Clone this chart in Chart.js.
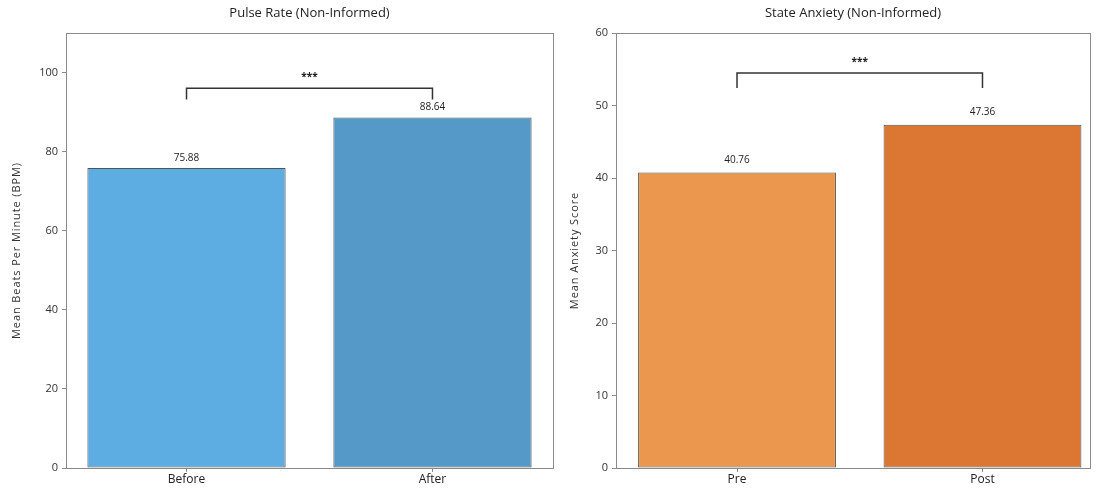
<!DOCTYPE html>
<html>
<head>
<meta charset="utf-8">
<script src="https://cdn.jsdelivr.net/npm/chart.js@4.4.1/dist/chart.umd.min.js"></script>
<style>
  html, body { margin: 0; padding: 0; background: #fff; overflow: hidden; }
  #wrap { position: relative; width: 1099px; height: 490px; overflow: hidden; }
  .box { position: absolute; top: 0; height: 490px; }
</style>
</head>
<body>
<div id="wrap">
  <div class="box" style="left:0;width:555px"><canvas id="pulse"></canvas></div>
  <div class="box" style="left:555px;width:544px"><canvas id="anxiety"></canvas></div>
</div>
<script>
// Pulse rate panel
const pulseGroups = ['Before', 'After'];
const pulseMeans = [75.88, 88.64];
const pulseTicks = [0, 20, 40, 60, 80, 100];
const pulseMax = 110;
const pulseXRange = [-0.49, 1.49];
const pulseColors = ['#5dade2', '#5499c7'];
const pulseBracket = [96, 93.2];   // bracket bar level, tick end level
const pulseTitle = 'Pulse Rate (Non-Informed)';
const pulseYLabel = 'Mean Beats Per Minute (BPM)';

// State anxiety panel
const anxietyGroups = ['Pre', 'Post'];
const anxietyMeans = [40.76, 47.36];
const anxietyTicks = [0, 10, 20, 30, 40, 50, 60];
const anxietyMax = 60;
const anxietyXRange = [-0.493, 1.438];
const anxietyColors = ['#eb984e', '#dc7633'];
const anxietyBracket = [54.5, 52.4];
const anxietyTitle = 'State Anxiety (Non-Informed)';
const anxietyYLabel = 'Mean Anxiety Score';

const significance = '***';
const FONT = '"Open Sans", "DejaVu Sans", sans-serif';
const SPINE = '#8a8a8a';

// Frame, title, value labels and significance bracket
const decorations = {
  id: 'decorations',
  afterDatasetsDraw(chart, args, o) {
    const ctx = chart.ctx;
    const a = chart.chartArea;
    const x = chart.scales.x, y = chart.scales.y;
    ctx.save();
    // spines
    ctx.strokeStyle = SPINE;
    ctx.lineWidth = 1;
    ctx.strokeRect(Math.round(a.left) + 0.5, Math.round(a.top) + 0.5,
                   Math.round(a.right - a.left), Math.round(a.bottom - a.top));
    // title
    ctx.fillStyle = '#222';
    ctx.font = '13px ' + FONT;
    ctx.textAlign = 'center';
    ctx.textBaseline = 'middle';
    ctx.fillText(o.title, (a.left + a.right) / 2, 13);
    // y-axis label
    ctx.save();
    ctx.translate(o.yLabelX, (a.top + a.bottom) / 2);
    ctx.rotate(-Math.PI / 2);
    ctx.font = '11px ' + FONT;
    ctx.letterSpacing = '0.9px';
    ctx.fillStyle = '#333';
    ctx.fillText(o.yLabel, 0, 0);
    ctx.restore();
    // value labels
    const meta = chart.getDatasetMeta(0);
    const vals = chart.data.datasets[0].data;
    ctx.font = '10px ' + FONT;
    ctx.fillStyle = '#222';
    ctx.textBaseline = 'bottom';
    meta.data.forEach((bar, i) => {
      ctx.fillText(vals[i].y.toFixed(2), bar.x, bar.y - o.labelGap);
    });
    // significance bracket
    const x0 = x.getPixelForValue(0), x1 = x.getPixelForValue(1);
    const yb = y.getPixelForValue(o.bracket[0]);
    const yt = y.getPixelForValue(o.bracket[1]);
    ctx.strokeStyle = '#333';
    ctx.lineWidth = 1.5;
    ctx.beginPath();
    ctx.moveTo(x0, yt); ctx.lineTo(x0, yb); ctx.lineTo(x1, yb); ctx.lineTo(x1, yt);
    ctx.stroke();
    ctx.font = 'bold 10px ' + FONT;
    ctx.fillStyle = '#222';
    ctx.textBaseline = 'middle';
    ctx.fillText(significance, (x0 + x1) / 2, yb - 11);
    ctx.restore();
  }
};

function makePanel(id, groups, means, colors, ticks, max, xRange, opts) {
  return new Chart(document.getElementById(id), {
    type: 'bar',
    data: {
      datasets: [{
        data: means.map((v, i) => ({ x: i, y: v })),
        backgroundColor: colors,
        borderColor: 'rgba(40,40,40,0.8)',
        borderWidth: 1,
        borderSkipped: false,
        barPercentage: 0.806,
        categoryPercentage: 1.0
      }]
    },
    options: {
      responsive: true,
      maintainAspectRatio: false,
      animation: false,
      layout: { padding: { top: 33, right: opts.padRight, bottom: 0, left: 0 } },
      plugins: {
        legend: { display: false },
        tooltip: { enabled: false },
        decorations: opts
      },
      scales: {
        x: {
          type: 'linear',
          offset: false,
          min: xRange[0], max: xRange[1],
          grid: { display: true, offset: false, drawOnChartArea: false, tickLength: 4, color: SPINE },
          border: { display: false },
          ticks: {
            color: '#222', font: { family: FONT, size: 12 }, padding: 0,
            callback: (v) => groups[v]
          },
          afterBuildTicks(s) { s.ticks = groups.map((g, i) => ({ value: i })); },
          afterFit(s) { s.height = 22; }
        },
        y: {
          min: 0, max: max,
          grid: { display: true, drawOnChartArea: false, tickLength: 4, color: SPINE },
          border: { display: false },
          ticks: { color: '#333', font: { family: FONT, size: 11 }, padding: 4 },
          afterBuildTicks(s) { s.ticks = ticks.map(v => ({ value: v })); },
          afterFit(s) { s.width = opts.yWidth; }
        }
      }
    },
    plugins: [decorations]
  });
}

makePanel('pulse', pulseGroups, pulseMeans, pulseColors, pulseTicks, pulseMax, pulseXRange, {
  title: pulseTitle, yLabel: pulseYLabel, yLabelX: 17, bracket: pulseBracket,
  labelGap: 5, padRight: 2, yWidth: 66
});
makePanel('anxiety', anxietyGroups, anxietyMeans, anxietyColors, anxietyTicks, anxietyMax, anxietyXRange, {
  title: anxietyTitle, yLabel: anxietyYLabel, yLabelX: 20, bracket: anxietyBracket,
  labelGap: 7, padRight: 9, yWidth: 61
});
</script>
</body>
</html>
